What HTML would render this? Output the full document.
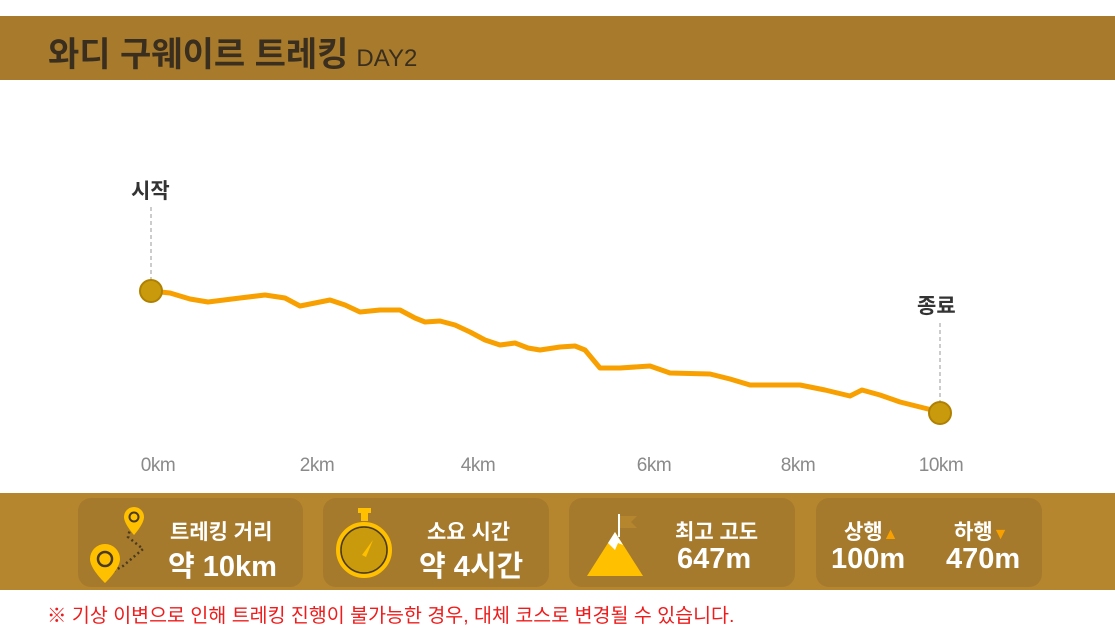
<!DOCTYPE html>
<html><head><meta charset="utf-8"><style>
body{margin:0;width:1115px;height:626px;background:#fff;position:relative;overflow:hidden;font-family:"Liberation Sans","Noto Sans CJK KR",sans-serif}
.hdr{position:absolute;left:0;top:16px;width:1115px;height:64px;background:#a87b2c}
.hdr span{position:absolute;left:48px;top:11px;font-size:34px;font-weight:bold;color:#3a2e1e;white-space:nowrap}
.hdr small{font-size:24px;font-weight:normal;color:#3a2e1e;margin-left:8px}
.band{position:absolute;left:0;top:493px;width:1115px;height:97px;background:#b5862e}
.card{position:absolute;top:5px;height:89px;background:#a67a2c;border-radius:13px;color:#fff;text-align:center}
.t1{position:absolute;font-size:21px;font-weight:bold;white-space:nowrap}
.t2{position:absolute;font-size:29px;font-weight:bold;white-space:nowrap}
.note{position:absolute;left:47px;top:599px;font-size:19.5px;color:#ee1c1c;white-space:nowrap}
.ax{position:absolute;top:455px;font-size:19px;color:#8a8a8a;transform:translateX(-50%);letter-spacing:-0.5px}
.lb{position:absolute;font-size:21px;font-weight:bold;color:#333}
</style></head><body>
<div class="hdr"><span>와디 구웨이르 트레킹<small>DAY2</small></span></div>
<svg style="position:absolute;left:0;top:0" width="1115" height="490">
<line x1="151" y1="207" x2="151" y2="284" stroke="#999" stroke-dasharray="4,3"/>
<line x1="940" y1="323" x2="940" y2="405" stroke="#999" stroke-dasharray="4,3"/>
<polyline fill="none" stroke="#f7a000" stroke-width="5" stroke-linejoin="round" stroke-linecap="round" points="151,291 170,293 190,299 208,302 240,298 265,295 285,298 300,306 330,300 345,305 360,312 380,310 400,310 415,318 425,322 440,321 455,325 470,332 485,340 500,345 515,343 528,348 540,350 560,347 575,346 585,350 600,368 620,368 650,366 670,373 710,374 730,379 750,385 800,385 825,390 850,396 862,390 880,395 900,402 940,412"/>
<circle cx="151" cy="291" r="11" fill="#c99a0c" stroke="#b08000" stroke-width="2"/>
<circle cx="940" cy="413" r="11" fill="#c99a0c" stroke="#b08000" stroke-width="2"/>
</svg>
<div class="lb" style="left:131px;top:175px">시작</div>
<div class="lb" style="left:917px;top:290px">종료</div>
<div class="ax" style="left:158px">0km</div>
<div class="ax" style="left:317px">2km</div>
<div class="ax" style="left:478px">4km</div>
<div class="ax" style="left:654px">6km</div>
<div class="ax" style="left:798px">8km</div>
<div class="ax" style="left:941px">10km</div>
<div class="band">
<div class="card" style="left:78px;width:225px">
<svg style="position:absolute;left:10px;top:6px" width="70" height="80">
<path d="M45 13 L40 33 L55 45 L35 62 L20 70" fill="none" stroke="#4a3a20" stroke-width="2.5" stroke-dasharray="2,3"/>
<path d="M46 3 a10 10 0 0 1 10 10 c0 7 -10 18 -10 18 c0 0 -10 -11 -10 -18 a10 10 0 0 1 10 -10z" fill="#ffc000"/>
<circle cx="46" cy="13" r="4.5" fill="none" stroke="#4a3a20" stroke-width="2"/>
<path d="M17 40 a15 15 0 0 1 15 15 c0 10 -15 24 -15 24 c0 0 -15 -14 -15 -24 a15 15 0 0 1 15 -15z" fill="#ffc000"/>
<circle cx="17" cy="55" r="7" fill="none" stroke="#4a3a20" stroke-width="2.5"/>
</svg>
<div class="t1" style="left:92px;top:18px">트레킹 거리</div>
<div class="t2" style="left:90px;top:45px">약 10km</div></div>
<div class="card" style="left:323px;width:226px">
<svg style="position:absolute;left:10px;top:8px" width="60" height="80">
<rect x="25" y="2" width="13" height="5" fill="#ffc000"/><rect x="28" y="7" width="7" height="8" fill="#ffc000"/>
<circle cx="31" cy="44" r="26" fill="#c99a0c" stroke="#ffc000" stroke-width="4"/>
<circle cx="31" cy="44" r="23" fill="none" stroke="#4a3a20" stroke-width="1.5"/>
<path d="M29 49 L40 34 L33 51z" fill="#ffc000"/>
</svg>
<div class="t1" style="left:104px;top:18px">소요 시간</div>
<div class="t2" style="left:96px;top:45px">약 4시간</div></div>
<div class="card" style="left:569px;width:226px">
<svg style="position:absolute;left:18px;top:14px" width="60" height="65">
<line x1="32" y1="2" x2="32" y2="25" stroke="#fff" stroke-width="2"/><path d="M33 4 L50 4 L44 10 L50 16 L33 16z" fill="#b5862e"/>
<path d="M0 64 L28 20 L56 64z" fill="#ffc000"/><path d="M21 31 L28 20 L36 33 L31 31 L28 38z" fill="#fff"/>
</svg>
<div class="t1" style="left:106px;top:18px">최고 고도</div>
<div class="t2" style="left:108px;top:45px">647m</div></div>
<div class="card" style="left:816px;width:226px">
<div class="t1" style="left:28px;top:18px">상행<span style="color:#f7a000;font-size:16px">▲</span></div>
<div class="t1" style="left:138px;top:18px">하행<span style="color:#f7a000;font-size:16px">▼</span></div>
<div class="t2" style="left:15px;top:45px">100m</div>
<div class="t2" style="left:130px;top:45px">470m</div></div>
</div>
<div class="note">※ 기상 이변으로 인해 트레킹 진행이 불가능한 경우, 대체 코스로 변경될 수 있습니다.</div>
</body></html>
